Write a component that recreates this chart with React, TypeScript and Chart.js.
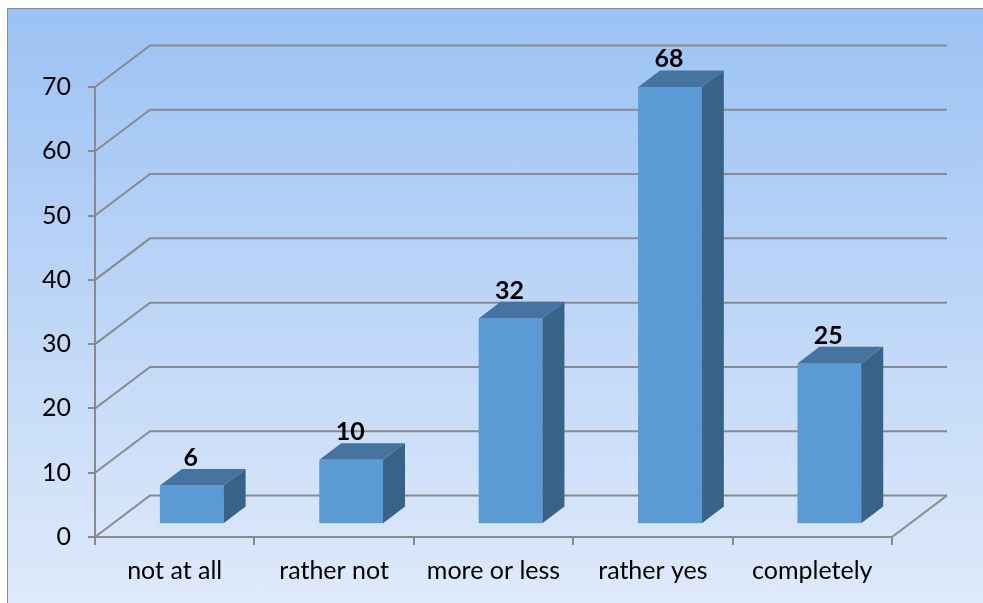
import React, { useEffect, useRef } from "react";
import { Chart, registerables } from "chart.js";

Chart.register(...registerables);

const categories = ["not at all", "rather not", "more or less", "rather yes", "completely"];
const values = [6, 10, 32, 68, 25];
const yTicks = [0, 10, 20, 30, 40, 50, 60, 70];

const DX = 55;
const DY = -41.5;
const BAR_FRONT = 0.31;
const BAR_DEPTH = 0.4;
const FRONT = "#5b9bd5";
const TOP = "#44749f";
const SIDE = "#386287";
const GRID = "#8a8a8a";
const FONT = "Lato, 'Noto Sans', sans-serif";

const threeD = {
  id: "threeD",
  beforeDatasetsDraw(chart: any) {
    const { ctx, chartArea, scales } = chart;
    const y = scales.y;
    ctx.save();
    ctx.strokeStyle = GRID;
    ctx.lineWidth = 2;
    for (const t of yTicks) {
      const py = y.getPixelForValue(t);
      ctx.beginPath();
      ctx.moveTo(chartArea.left, py);
      ctx.lineTo(chartArea.left + DX, py + DY);
      ctx.lineTo(chartArea.right + DX, py + DY);
      ctx.stroke();
    }
    const p0 = y.getPixelForValue(0);
    ctx.beginPath();
    ctx.moveTo(chartArea.right, p0);
    ctx.lineTo(chartArea.right + DX, p0 + DY);
    ctx.stroke();
    ctx.restore();
  },
  afterDatasetsDraw(chart: any) {
    const { ctx } = chart;
    const meta = chart.getDatasetMeta(0);
    ctx.save();
    meta.data.forEach((el: any, i: number) => {
      const { x, y, base, width } = el.getProps(["x", "y", "base", "width"], true);
      const fx = BAR_FRONT * DX;
      const fy = BAR_FRONT * DY;
      const bx = BAR_DEPTH * DX;
      const by = BAR_DEPTH * DY;
      const left = x - width / 2 + fx;
      const right = x + width / 2 + fx;
      const top = y + fy;
      const bottom = base + fy;
      ctx.fillStyle = FRONT;
      ctx.fillRect(left, top, right - left, bottom - top);
      ctx.fillStyle = TOP;
      ctx.beginPath();
      ctx.moveTo(left, top);
      ctx.lineTo(right, top);
      ctx.lineTo(right + bx, top + by);
      ctx.lineTo(left + bx, top + by);
      ctx.closePath();
      ctx.fill();
      ctx.fillStyle = SIDE;
      ctx.beginPath();
      ctx.moveTo(right, top);
      ctx.lineTo(right + bx, top + by);
      ctx.lineTo(right + bx, bottom + by);
      ctx.lineTo(right, bottom);
      ctx.closePath();
      ctx.fill();
      ctx.fillStyle = "#000";
      ctx.font = `bold 25px ${FONT}`;
      ctx.textAlign = "center";
      ctx.textBaseline = "alphabetic";
      ctx.fillText(String(values[i]), (left + right) / 2 - 1, top + by - 3);
    });
    ctx.restore();
  },
};

export default function App() {
  const ref = useRef<HTMLCanvasElement>(null);
  useEffect(() => {
    document.body.style.overflow = "hidden";
    const chart = new Chart(ref.current!, {
      type: "bar",
      data: {
        labels: categories,
        datasets: [
          {
            data: values,
            backgroundColor: "rgba(0,0,0,0)",
            barPercentage: 0.4,
            categoryPercentage: 1,
          },
        ],
      },
      options: {
        animation: false,
        responsive: true,
        maintainAspectRatio: false,
        layout: { padding: { top: 78, right: 91, left: 0, bottom: 0 } },
        plugins: { legend: { display: false }, tooltip: { enabled: false } },
        scales: {
          x: {
            offset: true,
            grid: { offset: true, drawOnChartArea: false, tickLength: 8, color: GRID, lineWidth: 2 },
            border: { display: true, color: GRID, width: 2 },
            ticks: { color: "#000", font: { family: FONT, size: 25 }, padding: 11, maxRotation: 0 },
            afterFit: (s: any) => {
              s.height = 66;
            },
          },
          y: {
            min: 0,
            max: 70,
            ticks: { stepSize: 10, color: "#000", font: { family: FONT, size: 25 }, padding: 17 },
            grid: { drawOnChartArea: false, tickLength: 7, color: GRID, lineWidth: 2 },
            border: { display: true, color: GRID, width: 2 },
            afterFit: (s: any) => {
              s.width = 87;
            },
          },
        },
      },
      plugins: [threeD],
    });
    return () => chart.destroy();
  }, []);
  return (
    <div
      style={{
        position: "fixed",
        left: 7,
        top: 8,
        right: 0,
        bottom: 0,
        borderLeft: "1px solid #8c8c8c",
        borderTop: "1px solid #8c8c8c",
        background: "linear-gradient(to bottom, #9bc2f4 0%, #dfeafa 100%)",
      }}
    >
      <canvas ref={ref} />
    </div>
  );
}
